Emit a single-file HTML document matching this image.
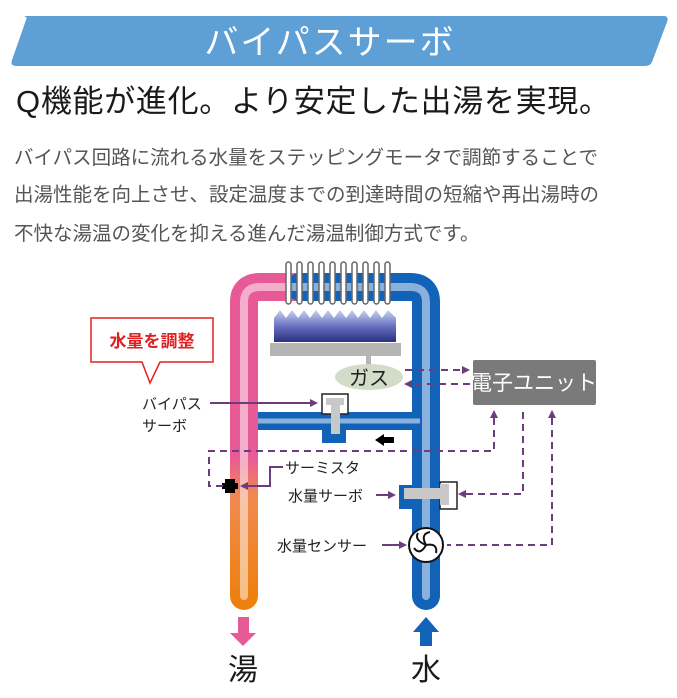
<!DOCTYPE html>
<html><head><meta charset="utf-8"><style>
html,body{margin:0;padding:0;background:#fff;width:677px;height:698px;overflow:hidden}
svg{display:block}
text{font-family:"Liberation Sans","Noto Sans CJK JP",sans-serif}
</style></head><body>
<svg width="677" height="698" viewBox="0 0 677 698" xmlns="http://www.w3.org/2000/svg">
<defs>
<linearGradient id="flame" x1="0" y1="0" x2="0" y2="1">
<stop offset="0" stop-color="#c8d4f0"/><stop offset="0.5" stop-color="#6a72c0"/><stop offset="1" stop-color="#2a2f80"/>
</linearGradient>
<linearGradient id="hot" x1="0" y1="0" x2="0" y2="1">
<stop offset="0" stop-color="#e85a95"/><stop offset="0.55" stop-color="#e85a95"/><stop offset="0.68" stop-color="#f08a50"/><stop offset="1" stop-color="#ee8010"/>
</linearGradient>
<linearGradient id="top" x1="0" y1="0" x2="1" y2="0">
<stop offset="0" stop-color="#e85a95"/><stop offset="0.35" stop-color="#e85a95"/><stop offset="0.6" stop-color="#3a6fc0"/><stop offset="1" stop-color="#1060b8"/>
</linearGradient>
</defs>

<path d="M22 16 H664 Q669 16 667 22 L652 62 Q650 66 645 66 H16 Q10 66 12 60 L26 20 Q28 16 22 16Z" fill="#5e9fd6"/>
<text x="330" y="54" font-size="34" fill="#fff" text-anchor="middle" letter-spacing="2">バイパスサーボ</text>

<text x="16" y="112" font-size="31" fill="#1a1a1a" textLength="594">Q機能が進化。より安定した出湯を実現。</text>
<g font-size="19.5" fill="#555">
<text x="14" y="164">バイパス回路に流れる水量をステッピングモータで調節することで</text>
<text x="14" y="201">出湯性能を向上させ、設定温度までの到達時間の短縮や再出湯時の</text>
<text x="14" y="240">不快な湯温の変化を抑える進んだ湯温制御方式です。</text>
</g>

<path d="M244 596 V302 Q244 287 260 287 H330" fill="none" stroke="url(#hot)" stroke-width="28" stroke-linecap="round"/>
<path d="M300 287 H410 Q426 287 426 302 V596" fill="none" stroke="#1262b8" stroke-width="28" stroke-linecap="round"/>
<path d="M250 287 H420" stroke="url(#top)" stroke-width="28"/>
<path d="M258 421 H412" stroke="#1262b8" stroke-width="18"/>
<path d="M244 596 V302 Q244 287 260 287 H410 Q426 287 426 302 V596" fill="none" stroke="#fff" stroke-opacity="0.5" stroke-width="8" stroke-linecap="round"/>
<path d="M258 421 H420" stroke="#fff" stroke-opacity="0.5" stroke-width="5"/>

<g fill="#fff" stroke="#666" stroke-width="1.5">
<rect x="286" y="262" width="5" height="42" rx="2.5"/><rect x="297" y="262" width="5" height="42" rx="2.5"/><rect x="308" y="262" width="5" height="42" rx="2.5"/><rect x="319" y="262" width="5" height="42" rx="2.5"/><rect x="330" y="262" width="5" height="42" rx="2.5"/><rect x="341" y="262" width="5" height="42" rx="2.5"/><rect x="352" y="262" width="5" height="42" rx="2.5"/><rect x="363" y="262" width="5" height="42" rx="2.5"/><rect x="374" y="262" width="5" height="42" rx="2.5"/><rect x="385" y="262" width="5" height="42" rx="2.5"/>
</g>
<path d="M274 342 V318 L280 310 L286 318 L292 310 L298 318 L304 310 L310 318 L316 310 L322 318 L328 310 L334 318 L340 310 L346 318 L352 310 L358 318 L364 310 L370 318 L376 310 L382 318 L388 310 L396 318 V342Z" fill="url(#flame)"/>
<rect x="270" y="343" width="131" height="13" fill="#b5b5b5"/>
<rect x="366" y="356" width="5" height="12" fill="#b5b5b5"/>
<ellipse cx="369" cy="377" rx="34" ry="13" fill="#d3dcc8"/>
<text x="369" y="385" font-size="20" fill="#222" text-anchor="middle">ガス</text>

<rect x="473" y="360" width="123" height="45" rx="2" fill="#7a7a7a"/>
<text x="534" y="390" font-size="21" fill="#fff" text-anchor="middle">電子ユニット</text>

<rect x="322" y="394" width="26" height="20" fill="#fff" stroke="#222" stroke-width="1.5"/>
<rect x="322" y="428" width="24" height="15" fill="#1262b8"/>
<rect x="326" y="398" width="18" height="7" fill="#c8c8c8"/>
<rect x="331" y="398" width="9" height="36" fill="#c8c8c8"/>
<path d="M375 440 L384 434 V437 H394 V443 H384 V446Z" fill="#000"/>

<rect x="399" y="485" width="16" height="24" fill="#1262b8"/>
<rect x="440" y="482" width="17" height="27" fill="#fff" stroke="#222" stroke-width="1.5"/>
<rect x="404" y="488" width="44" height="11" fill="#c8c8c8"/>
<rect x="440" y="484" width="9" height="21" fill="#c8c8c8"/>

<circle cx="426" cy="545" r="17" fill="#fff" stroke="#111" stroke-width="2"/>
<g fill="none" stroke="#111" stroke-width="2">
<path d="M426 545 Q420 534 430 532"/><path d="M426 545 Q438 543 436 553"/><path d="M426 545 Q420 556 414 548"/><path d="M426 545 Q414 540 418 533"/>
</g>

<rect x="225" y="479" width="10" height="14" fill="#000"/>
<rect x="222" y="483" width="16" height="6" fill="#000"/>

<g fill="none" stroke="#6b3d7a" stroke-width="2" stroke-dasharray="7 5">
<path d="M405 370 H462"/><path d="M470 384 H412"/>
<path d="M494 418 V451 H209 V486 H228"/>
<path d="M523 412 V494 H465"/>
<path d="M552 418 V545 H447"/>
</g>
<g fill="#6b3d7a">
<path d="M470 370 L462 366 V374Z"/><path d="M404 384 L412 380 V388Z"/>
<path d="M494 410 L490 418 H498Z"/><path d="M552 410 L548 418 H556Z"/>
<path d="M458 494 L466 490 V498Z"/>
</g>
<g fill="none" stroke="#6b3d7a" stroke-width="2">
<path d="M210 403 H312"/><path d="M283 467 H270 V486 H246"/>
<path d="M376 495 H389"/><path d="M382 545 H401"/>
</g>
<g fill="#6b3d7a">
<path d="M318 403 L310 399 V407Z"/><path d="M240 486 L248 482 V490Z"/>
<path d="M396 495 L388 491 V499Z"/><path d="M407 545 L399 541 V549Z"/>
</g>

<g font-size="15" fill="#222">
<text x="142" y="409">バイパス</text>
<text x="142" y="431">サーボ</text>
<text x="285" y="473">サーミスタ</text>
<text x="288" y="501">水量サーボ</text>
<text x="277" y="551">水量センサー</text>
</g>

<path d="M91 318 H213 V362 H160 L150 383 L142 362 H91Z" fill="#fff" stroke="#e02020" stroke-width="1.5"/>
<text x="152" y="347" font-size="17" font-weight="bold" fill="#e02020" text-anchor="middle">水量を調整</text>

<path d="M238 617 H249 V633 H256 L243 646 L230 633 H238Z" fill="#e85a95"/>
<path d="M420 646 H432 V632 H439 L426 617 L413 632 H420Z" fill="#1262b8"/>
<text x="243" y="680" font-size="30" fill="#1a1a1a" text-anchor="middle">湯</text>
<text x="426" y="680" font-size="30" fill="#1a1a1a" text-anchor="middle">水</text>
</svg>
</body></html>
